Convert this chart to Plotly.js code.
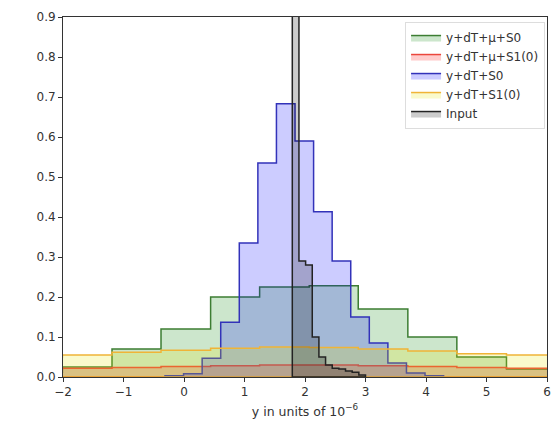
<!DOCTYPE html>
<html>
<head>
<meta charset="utf-8">
<script src="https://cdn.plot.ly/plotly-3.0.1.min.js"></script>
<style>html,body{margin:0;padding:0;background:#fff;}#chart{width:553px;height:427px;}</style>
</head>
<body>
<div id="chart"></div>
<script>
// Series names (legend order)
const seriesNames = ["y+dT+\u03bc+S0", "y+dT+\u03bc+S1(0)", "y+dT+S0", "y+dT+S1(0)", "Input"];

// Bin edges and densities
const wideEdges = [-2.82, -2.01, -1.19, -0.38, 0.44, 1.25, 2.07, 2.88, 3.70, 4.51, 5.33, 6.14];
const greenVals = [0.012, 0.025, 0.07, 0.12, 0.2, 0.225, 0.228, 0.17, 0.10, 0.05, 0.02];
const redVals   = [0.02, 0.022, 0.024, 0.026, 0.028, 0.03, 0.03, 0.028, 0.026, 0.024, 0.022];
const yellowVals= [0.05, 0.055, 0.062, 0.067, 0.072, 0.075, 0.074, 0.07, 0.065, 0.058, 0.055];

const blueEdges = [-0.314, -0.007, 0.3, 0.607, 0.914, 1.221, 1.528, 1.835, 2.142, 2.449, 2.756, 3.063, 3.37, 3.677, 3.984, 4.291];
const blueVals  = [0.003, 0.008, 0.047, 0.137, 0.335, 0.535, 0.683, 0.59, 0.413, 0.29, 0.15, 0.085, 0.035, 0.01, 0.003];

const inputEdges = [1.79, 1.90, 2.01, 2.12, 2.23, 2.34, 2.45, 2.56, 2.67, 2.78, 2.89, 3.0];
const inputVals  = [8.3, 0.29, 0.28, 0.10, 0.05, 0.03, 0.022, 0.02, 0.015, 0.012, 0.005];

const xTicks = [-2, -1, 0, 1, 2, 3, 4, 5, 6];
const yTicks = [0.0, 0.1, 0.2, 0.3, 0.4, 0.5, 0.6, 0.7, 0.8, 0.9];

function stepPoly(edges, vals) {
  const x = [edges[0]], y = [0];
  for (let i = 0; i < vals.length; i++) {
    x.push(edges[i]); y.push(vals[i]);
    x.push(edges[i + 1]); y.push(vals[i]);
  }
  x.push(edges[edges.length - 1]); y.push(0);
  x.push(edges[0]); y.push(0);
  return {x, y};
}

function histTrace(name, edges, vals, lineColor, fillColor) {
  const p = stepPoly(edges, vals);
  return {
    type: 'scatter', mode: 'lines', name: name,
    x: p.x, y: p.y, fill: 'toself', fillcolor: fillColor,
    line: {color: lineColor, width: 1.5, shape: 'linear'},
    hoverinfo: 'skip'
  };
}

const data = [
  histTrace(seriesNames[0], wideEdges, greenVals, 'rgb(60,125,50)', 'rgba(0,128,0,0.2)'),
  histTrace(seriesNames[1], wideEdges, redVals, 'rgb(235,70,60)', 'rgba(255,0,0,0.2)'),
  histTrace(seriesNames[2], blueEdges, blueVals, 'rgb(50,50,185)', 'rgba(0,0,255,0.2)'),
  histTrace(seriesNames[3], wideEdges, yellowVals, 'rgb(240,180,55)', 'rgba(230,230,0,0.2)'),
  histTrace(seriesNames[4], inputEdges, inputVals, 'rgb(35,35,35)', 'rgba(0,0,0,0.2)')
];

const axisCommon = {
  showgrid: false, zeroline: false, showline: true, mirror: true,
  linecolor: '#333', linewidth: 1, ticks: 'outside', ticklen: 4,
  tickwidth: 1, tickcolor: '#333',
  tickfont: {family: 'DejaVu Sans', size: 12, color: '#333'}
};

const layout = {
  width: 553, height: 427,
  margin: {l: 63, r: 6, t: 17, b: 50},
  paper_bgcolor: '#fff', plot_bgcolor: '#fff',
  showlegend: true,
  legend: {
    x: 0.996, xanchor: 'right', y: 0.986, yanchor: 'top',
    bgcolor: 'rgba(255,255,255,0.8)', bordercolor: '#ddd', borderwidth: 1,
    font: {family: 'DejaVu Sans', size: 12, color: '#333'},
    tracegroupgap: 0
  },
  xaxis: Object.assign({}, axisCommon, {
    range: [-2, 6], tickvals: xTicks,
    title: {text: 'y in units of 10<sup>\u22126</sup>', font: {family: 'DejaVu Sans', size: 12.5, color: '#333'}, standoff: 8}
  }),
  yaxis: Object.assign({}, axisCommon, {
    range: [0, 0.9], tickvals: yTicks, tickformat: '.1f'
  })
};

Plotly.newPlot('chart', data, layout, {displayModeBar: false, staticPlot: true});
</script>
</body>
</html>
